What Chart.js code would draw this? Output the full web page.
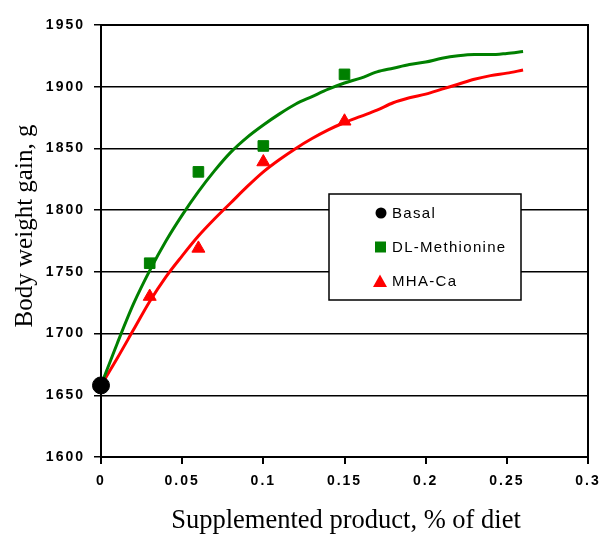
<!DOCTYPE html>
<html lang="en">
<head>
<meta charset="UTF-8">
<title>Body weight gain</title>
<script src="https://cdn.jsdelivr.net/npm/chart.js"></script>
<style>
  html, body { margin: 0; padding: 0; background: #fff; }
  #wrap { width: 601px; height: 535px; position: relative; }
</style>
</head>
<body>
<div id="wrap"><canvas id="myChart" width="601" height="535"></canvas></div>
<script>
// measured points
const basalX = [0];
const basalY = [1658];
const dlmX = [0.03, 0.06, 0.1, 0.15];
const dlmY = [1757, 1831, 1852, 1910];
const mhaX = [0.03, 0.06, 0.1, 0.15];
const mhaY = [1730, 1769, 1839, 1872];

// fitted response curves
const fitX = [0, 0.01, 0.02, 0.03, 0.04, 0.05, 0.06, 0.07, 0.08, 0.09, 0.1, 0.11, 0.12, 0.13,
              0.14, 0.15, 0.16, 0.17, 0.18, 0.19, 0.2, 0.21, 0.22, 0.23, 0.24, 0.25, 0.26];
const dlmFit = [1658, 1692, 1724, 1751, 1775, 1796, 1815, 1832, 1847, 1859, 1869, 1878, 1886, 1892,
                1898, 1903, 1907, 1912, 1915, 1918, 1920, 1923, 1925, 1926, 1926, 1927, 1928.5];
const mhaFit = [1658, 1680, 1703, 1726, 1746, 1763, 1779, 1793, 1806, 1819, 1831, 1841, 1850, 1858,
                1865, 1871, 1876, 1881, 1887, 1891, 1894, 1898, 1902, 1906, 1909, 1911, 1913.5];

const xTicks = [0, 0.05, 0.1, 0.15, 0.2, 0.25, 0.3];
const yTicks = [1600, 1650, 1700, 1750, 1800, 1850, 1900, 1950];

const xTitle = 'Supplemented product, % of diet';
const yTitle = 'Body weight gain, g';

const legendItems = [
    { label: 'Basal', color: '#000000', shape: 'circle' },
    { label: 'DL-Methionine', color: '#008000', shape: 'rect' },
    { label: 'MHA-Ca', color: '#ff0000', shape: 'triangle' }
];

function pts(xs, ys) {
    return xs.map((x, i) => ({ x: x, y: ys[i] }));
}

const serif = '"Liberation Serif", "Times New Roman", serif';
const sans = '"Liberation Sans", Arial, sans-serif';

// frame, axis titles and the boxed legend inside the plot
const framePlugin = {
    id: 'frame',
    beforeDraw(chart) {
        // wide tick lettering like the original
        chart.ctx.letterSpacing = '2px';
    },
    beforeDatasetsDraw(chart) {
        const a = chart.chartArea;
        const c = chart.ctx;
        c.save();
        c.strokeStyle = '#000';
        c.lineWidth = 2;
        c.beginPath();
        c.moveTo(a.left, a.top);
        c.lineTo(a.right, a.top);
        c.lineTo(a.right, a.bottom);
        c.stroke();
        c.restore();
    },
    afterDraw(chart) {
        const c = chart.ctx;
        c.save();
        c.letterSpacing = '0px';
        c.fillStyle = '#000';
        c.textAlign = 'center';
        c.textBaseline = 'middle';
        c.font = '26.5px ' + serif;
        c.fillText(xTitle, 346, 521);
        c.translate(25, 226);
        c.rotate(-Math.PI / 2);
        c.font = '25px ' + serif;
        c.fillText(yTitle, 0, 0);
        c.restore();

        const x0 = 329, y0 = 194, w = 192, h = 106;
        c.save();
        c.fillStyle = '#fff';
        c.fillRect(x0, y0, w, h);
        c.strokeStyle = '#000';
        c.lineWidth = 1.5;
        c.strokeRect(x0, y0, w, h);
        c.font = '15px ' + sans;
        c.letterSpacing = '1.3px';
        c.textBaseline = 'middle';
        c.textAlign = 'left';
        const rows = [213, 247, 281];
        legendItems.forEach((it, i) => {
            const y = rows[i];
            const mx = 380;
            c.fillStyle = it.color;
            c.beginPath();
            if (it.shape === 'circle') {
                c.arc(mx + 1, y, 5.5, 0, Math.PI * 2);
            } else if (it.shape === 'rect') {
                c.rect(mx - 5, y - 5.5, 11, 11);
            } else {
                c.moveTo(mx, y - 6.5);
                c.lineTo(mx + 7, y + 6);
                c.lineTo(mx - 7, y + 6);
                c.closePath();
            }
            c.fill();
            c.fillStyle = '#000';
            c.fillText(it.label, 392, y + 1);
        });
        c.restore();
    }
};

const ctx = document.getElementById('myChart').getContext('2d');
const myChart = new Chart(ctx, {
    type: 'scatter',
    data: {
        datasets: [
            {
                label: 'Basal',
                data: pts(basalX, basalY),
                pointStyle: 'circle',
                pointRadius: 8.5,
                backgroundColor: '#000',
                borderColor: '#000',
                clip: false,
                order: 0
            },
            {
                label: 'DL-Methionine',
                data: pts(dlmX, dlmY),
                pointStyle: 'rect',
                pointRadius: 7.5,
                backgroundColor: '#008000',
                borderColor: '#008000',
                clip: false,
                order: 0
            },
            {
                label: 'MHA-Ca',
                data: pts(mhaX, mhaY),
                pointStyle: 'triangle',
                pointRadius: 7.5,
                backgroundColor: '#ff0000',
                borderColor: '#ff0000',
                clip: false,
                order: 0
            },
            {
                label: 'DL-Met fit',
                type: 'line',
                data: pts(fitX, dlmFit),
                borderColor: '#008000',
                borderWidth: 3,
                pointRadius: 0,
                cubicInterpolationMode: 'monotone',
                fill: false,
                order: 1
            },
            {
                label: 'MHA fit',
                type: 'line',
                data: pts(fitX, mhaFit),
                borderColor: '#ff0000',
                borderWidth: 3,
                pointRadius: 0,
                cubicInterpolationMode: 'monotone',
                fill: false,
                order: 1
            }
        ]
    },
    options: {
        responsive: false,
        animation: false,
        layout: { padding: { top: 25, right: 13, left: 0, bottom: 0 } },
        plugins: {
            legend: { display: false },
            tooltip: { enabled: false }
        },
        scales: {
            x: {
                type: 'linear',
                min: 0,
                max: 0.3,
                afterBuildTicks(s) { s.ticks = xTicks.map(v => ({ value: v })); },
                afterFit(s) {
                    s.height = 78;
                    s.paddingLeft = 0;
                    s.paddingRight = 0;
                },
                border: { color: '#000', width: 2 },
                grid: { drawOnChartArea: false, drawTicks: true, tickLength: 7, color: '#000', lineWidth: 2 },
                ticks: {
                    color: '#000',
                    padding: 9,
                    maxRotation: 0,
                    font: { family: sans, size: 14, weight: 'bold' },
                    callback: v => String(v)
                }
            },
            y: {
                min: 1600,
                max: 1950,
                afterBuildTicks(s) { s.ticks = yTicks.map(v => ({ value: v })); },
                afterFit(s) {
                    s.width = 101;
                    s.paddingTop = 0;
                    s.paddingBottom = 0;
                },
                border: { color: '#000', width: 2 },
                grid: { color: '#000', lineWidth: 1.5, drawTicks: true, tickLength: 7 },
                ticks: {
                    color: '#000',
                    padding: 9,
                    font: { family: sans, size: 14, weight: 'bold' },
                    callback: v => String(v)
                }
            }
        }
    },
    plugins: [framePlugin]
});
</script>
</body>
</html>
